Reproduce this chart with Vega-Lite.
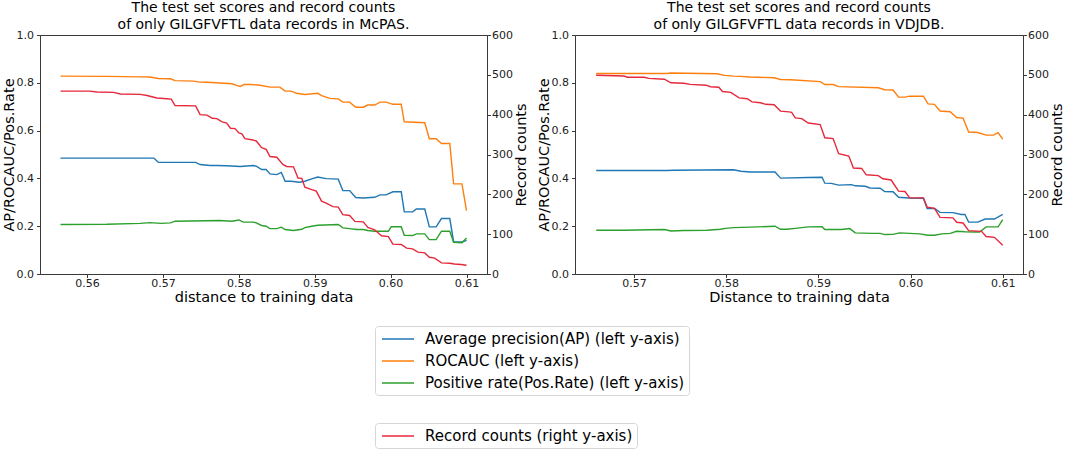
{
  "$schema": "https://vega.github.io/schema/vega-lite/v6.json",
  "padding": 0,
  "background": "white",
  "datasets": {
    "scores": [
      {"panel":"McPAS","metric":"AP","distance":0.5565,"value":0.485},
      {"panel":"McPAS","metric":"AP","distance":0.5688,"value":0.485},
      {"panel":"McPAS","metric":"AP","distance":0.5690,"value":0.479},
      {"panel":"McPAS","metric":"AP","distance":0.5694,"value":0.467},
      {"panel":"McPAS","metric":"AP","distance":0.5743,"value":0.467},
      {"panel":"McPAS","metric":"AP","distance":0.5749,"value":0.458},
      {"panel":"McPAS","metric":"AP","distance":0.5762,"value":0.454},
      {"panel":"McPAS","metric":"AP","distance":0.5771,"value":0.454},
      {"panel":"McPAS","metric":"AP","distance":0.5784,"value":0.453},
      {"panel":"McPAS","metric":"AP","distance":0.5802,"value":0.450},
      {"panel":"McPAS","metric":"AP","distance":0.5819,"value":0.454},
      {"panel":"McPAS","metric":"AP","distance":0.5823,"value":0.451},
      {"panel":"McPAS","metric":"AP","distance":0.5830,"value":0.437},
      {"panel":"McPAS","metric":"AP","distance":0.5836,"value":0.437},
      {"panel":"McPAS","metric":"AP","distance":0.5841,"value":0.419},
      {"panel":"McPAS","metric":"AP","distance":0.5850,"value":0.416},
      {"panel":"McPAS","metric":"AP","distance":0.5856,"value":0.425},
      {"panel":"McPAS","metric":"AP","distance":0.5861,"value":0.388},
      {"panel":"McPAS","metric":"AP","distance":0.5869,"value":0.388},
      {"panel":"McPAS","metric":"AP","distance":0.5880,"value":0.384},
      {"panel":"McPAS","metric":"AP","distance":0.5887,"value":0.388},
      {"panel":"McPAS","metric":"AP","distance":0.5896,"value":0.398},
      {"panel":"McPAS","metric":"AP","distance":0.5904,"value":0.406},
      {"panel":"McPAS","metric":"AP","distance":0.5915,"value":0.399},
      {"panel":"McPAS","metric":"AP","distance":0.5931,"value":0.397},
      {"panel":"McPAS","metric":"AP","distance":0.5937,"value":0.349},
      {"panel":"McPAS","metric":"AP","distance":0.5946,"value":0.349},
      {"panel":"McPAS","metric":"AP","distance":0.5954,"value":0.320},
      {"panel":"McPAS","metric":"AP","distance":0.5964,"value":0.318},
      {"panel":"McPAS","metric":"AP","distance":0.5979,"value":0.321},
      {"panel":"McPAS","metric":"AP","distance":0.5986,"value":0.331},
      {"panel":"McPAS","metric":"AP","distance":0.5994,"value":0.331},
      {"panel":"McPAS","metric":"AP","distance":0.6003,"value":0.344},
      {"panel":"McPAS","metric":"AP","distance":0.6014,"value":0.344},
      {"panel":"McPAS","metric":"AP","distance":0.6018,"value":0.260},
      {"panel":"McPAS","metric":"AP","distance":0.6029,"value":0.260},
      {"panel":"McPAS","metric":"AP","distance":0.6034,"value":0.272},
      {"panel":"McPAS","metric":"AP","distance":0.6045,"value":0.272},
      {"panel":"McPAS","metric":"AP","distance":0.6051,"value":0.197},
      {"panel":"McPAS","metric":"AP","distance":0.6060,"value":0.197},
      {"panel":"McPAS","metric":"AP","distance":0.6067,"value":0.232},
      {"panel":"McPAS","metric":"AP","distance":0.6078,"value":0.232},
      {"panel":"McPAS","metric":"AP","distance":0.6083,"value":0.134},
      {"panel":"McPAS","metric":"AP","distance":0.6094,"value":0.134},
      {"panel":"McPAS","metric":"AP","distance":0.6100,"value":0.141},

      {"panel":"McPAS","metric":"ROCAUC","distance":0.5565,"value":0.828},
      {"panel":"McPAS","metric":"ROCAUC","distance":0.5626,"value":0.827},
      {"panel":"McPAS","metric":"ROCAUC","distance":0.5670,"value":0.825},
      {"panel":"McPAS","metric":"ROCAUC","distance":0.5683,"value":0.824},
      {"panel":"McPAS","metric":"ROCAUC","distance":0.5694,"value":0.818},
      {"panel":"McPAS","metric":"ROCAUC","distance":0.5710,"value":0.817},
      {"panel":"McPAS","metric":"ROCAUC","distance":0.5716,"value":0.809},
      {"panel":"McPAS","metric":"ROCAUC","distance":0.5740,"value":0.807},
      {"panel":"McPAS","metric":"ROCAUC","distance":0.5749,"value":0.803},
      {"panel":"McPAS","metric":"ROCAUC","distance":0.5758,"value":0.802},
      {"panel":"McPAS","metric":"ROCAUC","distance":0.5775,"value":0.799},
      {"panel":"McPAS","metric":"ROCAUC","distance":0.5791,"value":0.796},
      {"panel":"McPAS","metric":"ROCAUC","distance":0.5797,"value":0.789},
      {"panel":"McPAS","metric":"ROCAUC","distance":0.5802,"value":0.785},
      {"panel":"McPAS","metric":"ROCAUC","distance":0.5807,"value":0.793},
      {"panel":"McPAS","metric":"ROCAUC","distance":0.5815,"value":0.793},
      {"panel":"McPAS","metric":"ROCAUC","distance":0.5828,"value":0.790},
      {"panel":"McPAS","metric":"ROCAUC","distance":0.5841,"value":0.782},
      {"panel":"McPAS","metric":"ROCAUC","distance":0.5854,"value":0.782},
      {"panel":"McPAS","metric":"ROCAUC","distance":0.5861,"value":0.765},
      {"panel":"McPAS","metric":"ROCAUC","distance":0.5869,"value":0.765},
      {"panel":"McPAS","metric":"ROCAUC","distance":0.5876,"value":0.756},
      {"panel":"McPAS","metric":"ROCAUC","distance":0.5887,"value":0.751},
      {"panel":"McPAS","metric":"ROCAUC","distance":0.5904,"value":0.756},
      {"panel":"McPAS","metric":"ROCAUC","distance":0.5909,"value":0.746},
      {"panel":"McPAS","metric":"ROCAUC","distance":0.5920,"value":0.735},
      {"panel":"McPAS","metric":"ROCAUC","distance":0.5931,"value":0.733},
      {"panel":"McPAS","metric":"ROCAUC","distance":0.5937,"value":0.719},
      {"panel":"McPAS","metric":"ROCAUC","distance":0.5946,"value":0.719},
      {"panel":"McPAS","metric":"ROCAUC","distance":0.5954,"value":0.698},
      {"panel":"McPAS","metric":"ROCAUC","distance":0.5964,"value":0.698},
      {"panel":"McPAS","metric":"ROCAUC","distance":0.5970,"value":0.707},
      {"panel":"McPAS","metric":"ROCAUC","distance":0.5979,"value":0.707},
      {"panel":"McPAS","metric":"ROCAUC","distance":0.5986,"value":0.719},
      {"panel":"McPAS","metric":"ROCAUC","distance":0.5994,"value":0.719},
      {"panel":"McPAS","metric":"ROCAUC","distance":0.6003,"value":0.710},
      {"panel":"McPAS","metric":"ROCAUC","distance":0.6014,"value":0.710},
      {"panel":"McPAS","metric":"ROCAUC","distance":0.6018,"value":0.637},
      {"panel":"McPAS","metric":"ROCAUC","distance":0.6045,"value":0.633},
      {"panel":"McPAS","metric":"ROCAUC","distance":0.6051,"value":0.566},
      {"panel":"McPAS","metric":"ROCAUC","distance":0.6060,"value":0.566},
      {"panel":"McPAS","metric":"ROCAUC","distance":0.6067,"value":0.546},
      {"panel":"McPAS","metric":"ROCAUC","distance":0.6078,"value":0.546},
      {"panel":"McPAS","metric":"ROCAUC","distance":0.6083,"value":0.377},
      {"panel":"McPAS","metric":"ROCAUC","distance":0.6094,"value":0.377},
      {"panel":"McPAS","metric":"ROCAUC","distance":0.6100,"value":0.265},

      {"panel":"McPAS","metric":"PosRate","distance":0.5565,"value":0.207},
      {"panel":"McPAS","metric":"PosRate","distance":0.5626,"value":0.208},
      {"panel":"McPAS","metric":"PosRate","distance":0.5670,"value":0.212},
      {"panel":"McPAS","metric":"PosRate","distance":0.5683,"value":0.215},
      {"panel":"McPAS","metric":"PosRate","distance":0.5697,"value":0.212},
      {"panel":"McPAS","metric":"PosRate","distance":0.5710,"value":0.214},
      {"panel":"McPAS","metric":"PosRate","distance":0.5716,"value":0.221},
      {"panel":"McPAS","metric":"PosRate","distance":0.5736,"value":0.222},
      {"panel":"McPAS","metric":"PosRate","distance":0.5775,"value":0.224},
      {"panel":"McPAS","metric":"PosRate","distance":0.5791,"value":0.221},
      {"panel":"McPAS","metric":"PosRate","distance":0.5800,"value":0.226},
      {"panel":"McPAS","metric":"PosRate","distance":0.5806,"value":0.217},
      {"panel":"McPAS","metric":"PosRate","distance":0.5819,"value":0.217},
      {"panel":"McPAS","metric":"PosRate","distance":0.5823,"value":0.214},
      {"panel":"McPAS","metric":"PosRate","distance":0.5830,"value":0.203},
      {"panel":"McPAS","metric":"PosRate","distance":0.5836,"value":0.200},
      {"panel":"McPAS","metric":"PosRate","distance":0.5841,"value":0.190},
      {"panel":"McPAS","metric":"PosRate","distance":0.5850,"value":0.190},
      {"panel":"McPAS","metric":"PosRate","distance":0.5856,"value":0.196},
      {"panel":"McPAS","metric":"PosRate","distance":0.5861,"value":0.186},
      {"panel":"McPAS","metric":"PosRate","distance":0.5872,"value":0.182},
      {"panel":"McPAS","metric":"PosRate","distance":0.5883,"value":0.187},
      {"panel":"McPAS","metric":"PosRate","distance":0.5887,"value":0.194},
      {"panel":"McPAS","metric":"PosRate","distance":0.5896,"value":0.200},
      {"panel":"McPAS","metric":"PosRate","distance":0.5904,"value":0.204},
      {"panel":"McPAS","metric":"PosRate","distance":0.5931,"value":0.207},
      {"panel":"McPAS","metric":"PosRate","distance":0.5937,"value":0.193},
      {"panel":"McPAS","metric":"PosRate","distance":0.5946,"value":0.190},
      {"panel":"McPAS","metric":"PosRate","distance":0.5955,"value":0.186},
      {"panel":"McPAS","metric":"PosRate","distance":0.5964,"value":0.186},
      {"panel":"McPAS","metric":"PosRate","distance":0.5970,"value":0.182},
      {"panel":"McPAS","metric":"PosRate","distance":0.5979,"value":0.179},
      {"panel":"McPAS","metric":"PosRate","distance":0.5997,"value":0.179},
      {"panel":"McPAS","metric":"PosRate","distance":0.6001,"value":0.198},
      {"panel":"McPAS","metric":"PosRate","distance":0.6014,"value":0.198},
      {"panel":"McPAS","metric":"PosRate","distance":0.6018,"value":0.162},
      {"panel":"McPAS","metric":"PosRate","distance":0.6029,"value":0.161},
      {"panel":"McPAS","metric":"PosRate","distance":0.6034,"value":0.168},
      {"panel":"McPAS","metric":"PosRate","distance":0.6045,"value":0.168},
      {"panel":"McPAS","metric":"PosRate","distance":0.6051,"value":0.144},
      {"panel":"McPAS","metric":"PosRate","distance":0.6060,"value":0.144},
      {"panel":"McPAS","metric":"PosRate","distance":0.6067,"value":0.179},
      {"panel":"McPAS","metric":"PosRate","distance":0.6078,"value":0.179},
      {"panel":"McPAS","metric":"PosRate","distance":0.6083,"value":0.133},
      {"panel":"McPAS","metric":"PosRate","distance":0.6094,"value":0.131},
      {"panel":"McPAS","metric":"PosRate","distance":0.6100,"value":0.151},

      {"panel":"VDJDB","metric":"AP","distance":0.5659,"value":0.433},
      {"panel":"VDJDB","metric":"AP","distance":0.5736,"value":0.433},
      {"panel":"VDJDB","metric":"AP","distance":0.5743,"value":0.434},
      {"panel":"VDJDB","metric":"AP","distance":0.5808,"value":0.436},
      {"panel":"VDJDB","metric":"AP","distance":0.5816,"value":0.430},
      {"panel":"VDJDB","metric":"AP","distance":0.5826,"value":0.427},
      {"panel":"VDJDB","metric":"AP","distance":0.5853,"value":0.427},
      {"panel":"VDJDB","metric":"AP","distance":0.5859,"value":0.401},
      {"panel":"VDJDB","metric":"AP","distance":0.5889,"value":0.404},
      {"panel":"VDJDB","metric":"AP","distance":0.5904,"value":0.405},
      {"panel":"VDJDB","metric":"AP","distance":0.5907,"value":0.380},
      {"panel":"VDJDB","metric":"AP","distance":0.5914,"value":0.379},
      {"panel":"VDJDB","metric":"AP","distance":0.5922,"value":0.372},
      {"panel":"VDJDB","metric":"AP","distance":0.5936,"value":0.374},
      {"panel":"VDJDB","metric":"AP","distance":0.5940,"value":0.369},
      {"panel":"VDJDB","metric":"AP","distance":0.5951,"value":0.367},
      {"panel":"VDJDB","metric":"AP","distance":0.5956,"value":0.360},
      {"panel":"VDJDB","metric":"AP","distance":0.5967,"value":0.359},
      {"panel":"VDJDB","metric":"AP","distance":0.5972,"value":0.345},
      {"panel":"VDJDB","metric":"AP","distance":0.5981,"value":0.344},
      {"panel":"VDJDB","metric":"AP","distance":0.5987,"value":0.321},
      {"panel":"VDJDB","metric":"AP","distance":0.5998,"value":0.318},
      {"panel":"VDJDB","metric":"AP","distance":0.6014,"value":0.317},
      {"panel":"VDJDB","metric":"AP","distance":0.6018,"value":0.274},
      {"panel":"VDJDB","metric":"AP","distance":0.6026,"value":0.274},
      {"panel":"VDJDB","metric":"AP","distance":0.6032,"value":0.258},
      {"panel":"VDJDB","metric":"AP","distance":0.6046,"value":0.257},
      {"panel":"VDJDB","metric":"AP","distance":0.6055,"value":0.249},
      {"panel":"VDJDB","metric":"AP","distance":0.6059,"value":0.249},
      {"panel":"VDJDB","metric":"AP","distance":0.6063,"value":0.217},
      {"panel":"VDJDB","metric":"AP","distance":0.6073,"value":0.217},
      {"panel":"VDJDB","metric":"AP","distance":0.6081,"value":0.230},
      {"panel":"VDJDB","metric":"AP","distance":0.6091,"value":0.230},
      {"panel":"VDJDB","metric":"AP","distance":0.6100,"value":0.249},

      {"panel":"VDJDB","metric":"ROCAUC","distance":0.5659,"value":0.839},
      {"panel":"VDJDB","metric":"ROCAUC","distance":0.5736,"value":0.839},
      {"panel":"VDJDB","metric":"ROCAUC","distance":0.5740,"value":0.841},
      {"panel":"VDJDB","metric":"ROCAUC","distance":0.5790,"value":0.838},
      {"panel":"VDJDB","metric":"ROCAUC","distance":0.5798,"value":0.831},
      {"panel":"VDJDB","metric":"ROCAUC","distance":0.5808,"value":0.828},
      {"panel":"VDJDB","metric":"ROCAUC","distance":0.5816,"value":0.827},
      {"panel":"VDJDB","metric":"ROCAUC","distance":0.5826,"value":0.824},
      {"panel":"VDJDB","metric":"ROCAUC","distance":0.5852,"value":0.821},
      {"panel":"VDJDB","metric":"ROCAUC","distance":0.5859,"value":0.814},
      {"panel":"VDJDB","metric":"ROCAUC","distance":0.5870,"value":0.813},
      {"panel":"VDJDB","metric":"ROCAUC","distance":0.5902,"value":0.805},
      {"panel":"VDJDB","metric":"ROCAUC","distance":0.5907,"value":0.793},
      {"panel":"VDJDB","metric":"ROCAUC","distance":0.5916,"value":0.793},
      {"panel":"VDJDB","metric":"ROCAUC","distance":0.5922,"value":0.784},
      {"panel":"VDJDB","metric":"ROCAUC","distance":0.5965,"value":0.779},
      {"panel":"VDJDB","metric":"ROCAUC","distance":0.5972,"value":0.771},
      {"panel":"VDJDB","metric":"ROCAUC","distance":0.5981,"value":0.770},
      {"panel":"VDJDB","metric":"ROCAUC","distance":0.5987,"value":0.740},
      {"panel":"VDJDB","metric":"ROCAUC","distance":0.5994,"value":0.740},
      {"panel":"VDJDB","metric":"ROCAUC","distance":0.5999,"value":0.744},
      {"panel":"VDJDB","metric":"ROCAUC","distance":0.6014,"value":0.744},
      {"panel":"VDJDB","metric":"ROCAUC","distance":0.6019,"value":0.712},
      {"panel":"VDJDB","metric":"ROCAUC","distance":0.6026,"value":0.710},
      {"panel":"VDJDB","metric":"ROCAUC","distance":0.6032,"value":0.682},
      {"panel":"VDJDB","metric":"ROCAUC","distance":0.6043,"value":0.679},
      {"panel":"VDJDB","metric":"ROCAUC","distance":0.6050,"value":0.655},
      {"panel":"VDJDB","metric":"ROCAUC","distance":0.6057,"value":0.652},
      {"panel":"VDJDB","metric":"ROCAUC","distance":0.6063,"value":0.594},
      {"panel":"VDJDB","metric":"ROCAUC","distance":0.6073,"value":0.592},
      {"panel":"VDJDB","metric":"ROCAUC","distance":0.6082,"value":0.581},
      {"panel":"VDJDB","metric":"ROCAUC","distance":0.6090,"value":0.581},
      {"panel":"VDJDB","metric":"ROCAUC","distance":0.6095,"value":0.591},
      {"panel":"VDJDB","metric":"ROCAUC","distance":0.6100,"value":0.564},

      {"panel":"VDJDB","metric":"PosRate","distance":0.5659,"value":0.183},
      {"panel":"VDJDB","metric":"PosRate","distance":0.5689,"value":0.183},
      {"panel":"VDJDB","metric":"PosRate","distance":0.5733,"value":0.186},
      {"panel":"VDJDB","metric":"PosRate","distance":0.5740,"value":0.180},
      {"panel":"VDJDB","metric":"PosRate","distance":0.5754,"value":0.182},
      {"panel":"VDJDB","metric":"PosRate","distance":0.5779,"value":0.183},
      {"panel":"VDJDB","metric":"PosRate","distance":0.5794,"value":0.187},
      {"panel":"VDJDB","metric":"PosRate","distance":0.5799,"value":0.191},
      {"panel":"VDJDB","metric":"PosRate","distance":0.5808,"value":0.194},
      {"panel":"VDJDB","metric":"PosRate","distance":0.5826,"value":0.196},
      {"panel":"VDJDB","metric":"PosRate","distance":0.5853,"value":0.200},
      {"panel":"VDJDB","metric":"PosRate","distance":0.5859,"value":0.187},
      {"panel":"VDJDB","metric":"PosRate","distance":0.5866,"value":0.187},
      {"panel":"VDJDB","metric":"PosRate","distance":0.5875,"value":0.191},
      {"panel":"VDJDB","metric":"PosRate","distance":0.5889,"value":0.197},
      {"panel":"VDJDB","metric":"PosRate","distance":0.5904,"value":0.198},
      {"panel":"VDJDB","metric":"PosRate","distance":0.5907,"value":0.186},
      {"panel":"VDJDB","metric":"PosRate","distance":0.5925,"value":0.186},
      {"panel":"VDJDB","metric":"PosRate","distance":0.5934,"value":0.190},
      {"panel":"VDJDB","metric":"PosRate","distance":0.5940,"value":0.172},
      {"panel":"VDJDB","metric":"PosRate","distance":0.5958,"value":0.170},
      {"panel":"VDJDB","metric":"PosRate","distance":0.5967,"value":0.170},
      {"panel":"VDJDB","metric":"PosRate","distance":0.5972,"value":0.165},
      {"panel":"VDJDB","metric":"PosRate","distance":0.5981,"value":0.166},
      {"panel":"VDJDB","metric":"PosRate","distance":0.5988,"value":0.172},
      {"panel":"VDJDB","metric":"PosRate","distance":0.6010,"value":0.168},
      {"panel":"VDJDB","metric":"PosRate","distance":0.6019,"value":0.162},
      {"panel":"VDJDB","metric":"PosRate","distance":0.6026,"value":0.162},
      {"panel":"VDJDB","metric":"PosRate","distance":0.6034,"value":0.168},
      {"panel":"VDJDB","metric":"PosRate","distance":0.6043,"value":0.170},
      {"panel":"VDJDB","metric":"PosRate","distance":0.6050,"value":0.179},
      {"panel":"VDJDB","metric":"PosRate","distance":0.6059,"value":0.177},
      {"panel":"VDJDB","metric":"PosRate","distance":0.6070,"value":0.176},
      {"panel":"VDJDB","metric":"PosRate","distance":0.6075,"value":0.176},
      {"panel":"VDJDB","metric":"PosRate","distance":0.6082,"value":0.197},
      {"panel":"VDJDB","metric":"PosRate","distance":0.6095,"value":0.197},
      {"panel":"VDJDB","metric":"PosRate","distance":0.6100,"value":0.228}
    ],
    "counts": [
      {"panel":"McPAS","distance":0.5565,"records":459},
      {"panel":"McPAS","distance":0.5604,"records":459},
      {"panel":"McPAS","distance":0.5613,"records":457},
      {"panel":"McPAS","distance":0.5635,"records":456},
      {"panel":"McPAS","distance":0.5644,"records":452},
      {"panel":"McPAS","distance":0.5670,"records":451},
      {"panel":"McPAS","distance":0.5679,"records":448},
      {"panel":"McPAS","distance":0.5692,"records":442},
      {"panel":"McPAS","distance":0.5705,"records":440},
      {"panel":"McPAS","distance":0.5711,"records":439},
      {"panel":"McPAS","distance":0.5716,"records":423},
      {"panel":"McPAS","distance":0.5743,"records":422},
      {"panel":"McPAS","distance":0.5749,"records":400},
      {"panel":"McPAS","distance":0.5758,"records":399},
      {"panel":"McPAS","distance":0.5765,"records":391},
      {"panel":"McPAS","distance":0.5771,"records":390},
      {"panel":"McPAS","distance":0.5778,"records":382},
      {"panel":"McPAS","distance":0.5784,"records":379},
      {"panel":"McPAS","distance":0.5789,"records":366},
      {"panel":"McPAS","distance":0.5795,"records":365},
      {"panel":"McPAS","distance":0.5800,"records":354},
      {"panel":"McPAS","distance":0.5804,"records":352},
      {"panel":"McPAS","distance":0.5808,"records":340},
      {"panel":"McPAS","distance":0.5817,"records":337},
      {"panel":"McPAS","distance":0.5823,"records":334},
      {"panel":"McPAS","distance":0.5830,"records":317},
      {"panel":"McPAS","distance":0.5836,"records":313},
      {"panel":"McPAS","distance":0.5841,"records":295},
      {"panel":"McPAS","distance":0.5850,"records":293},
      {"panel":"McPAS","distance":0.5858,"records":275},
      {"panel":"McPAS","distance":0.5863,"records":270},
      {"panel":"McPAS","distance":0.5872,"records":269},
      {"panel":"McPAS","distance":0.5878,"records":241},
      {"panel":"McPAS","distance":0.5883,"records":240},
      {"panel":"McPAS","distance":0.5887,"records":218},
      {"panel":"McPAS","distance":0.5896,"records":212},
      {"panel":"McPAS","distance":0.5902,"records":208},
      {"panel":"McPAS","distance":0.5909,"records":183},
      {"panel":"McPAS","distance":0.5915,"records":178},
      {"panel":"McPAS","distance":0.5924,"records":169},
      {"panel":"McPAS","distance":0.5931,"records":168},
      {"panel":"McPAS","distance":0.5937,"records":149},
      {"panel":"McPAS","distance":0.5946,"records":147},
      {"panel":"McPAS","distance":0.5953,"records":132},
      {"panel":"McPAS","distance":0.5964,"records":131},
      {"panel":"McPAS","distance":0.5970,"records":117},
      {"panel":"McPAS","distance":0.5979,"records":111},
      {"panel":"McPAS","distance":0.5988,"records":96},
      {"panel":"McPAS","distance":0.5997,"records":94},
      {"panel":"McPAS","distance":0.6003,"records":75},
      {"panel":"McPAS","distance":0.6014,"records":74},
      {"panel":"McPAS","distance":0.6021,"records":65},
      {"panel":"McPAS","distance":0.6029,"records":63},
      {"panel":"McPAS","distance":0.6036,"records":55},
      {"panel":"McPAS","distance":0.6045,"records":53},
      {"panel":"McPAS","distance":0.6051,"records":42},
      {"panel":"McPAS","distance":0.6058,"records":40},
      {"panel":"McPAS","distance":0.6067,"records":28},
      {"panel":"McPAS","distance":0.6078,"records":27},
      {"panel":"McPAS","distance":0.6084,"records":25},
      {"panel":"McPAS","distance":0.6093,"records":24},
      {"panel":"McPAS","distance":0.6100,"records":22},

      {"panel":"VDJDB","distance":0.5659,"records":499},
      {"panel":"VDJDB","distance":0.5689,"records":497},
      {"panel":"VDJDB","distance":0.5693,"records":494},
      {"panel":"VDJDB","distance":0.5711,"records":494},
      {"panel":"VDJDB","distance":0.5716,"records":491},
      {"panel":"VDJDB","distance":0.5733,"records":489},
      {"panel":"VDJDB","distance":0.5740,"records":480},
      {"panel":"VDJDB","distance":0.5754,"records":479},
      {"panel":"VDJDB","distance":0.5761,"records":476},
      {"panel":"VDJDB","distance":0.5778,"records":474},
      {"panel":"VDJDB","distance":0.5783,"records":470},
      {"panel":"VDJDB","distance":0.5792,"records":469},
      {"panel":"VDJDB","distance":0.5796,"records":458},
      {"panel":"VDJDB","distance":0.5805,"records":456},
      {"panel":"VDJDB","distance":0.5814,"records":442},
      {"panel":"VDJDB","distance":0.5823,"records":440},
      {"panel":"VDJDB","distance":0.5828,"records":432},
      {"panel":"VDJDB","distance":0.5837,"records":430},
      {"panel":"VDJDB","distance":0.5843,"records":426},
      {"panel":"VDJDB","distance":0.5852,"records":425},
      {"panel":"VDJDB","distance":0.5859,"records":409},
      {"panel":"VDJDB","distance":0.5868,"records":407},
      {"panel":"VDJDB","distance":0.5871,"records":406},
      {"panel":"VDJDB","distance":0.5875,"records":392},
      {"panel":"VDJDB","distance":0.5882,"records":390},
      {"panel":"VDJDB","distance":0.5889,"records":379},
      {"panel":"VDJDB","distance":0.5902,"records":375},
      {"panel":"VDJDB","distance":0.5907,"records":342},
      {"panel":"VDJDB","distance":0.5916,"records":340},
      {"panel":"VDJDB","distance":0.5922,"records":302},
      {"panel":"VDJDB","distance":0.5933,"records":296},
      {"panel":"VDJDB","distance":0.5938,"records":266},
      {"panel":"VDJDB","distance":0.5947,"records":265},
      {"panel":"VDJDB","distance":0.5952,"records":249},
      {"panel":"VDJDB","distance":0.5965,"records":247},
      {"panel":"VDJDB","distance":0.5970,"records":239},
      {"panel":"VDJDB","distance":0.5979,"records":236},
      {"panel":"VDJDB","distance":0.5987,"records":208},
      {"panel":"VDJDB","distance":0.5994,"records":207},
      {"panel":"VDJDB","distance":0.5999,"records":191},
      {"panel":"VDJDB","distance":0.6014,"records":191},
      {"panel":"VDJDB","distance":0.6018,"records":168},
      {"panel":"VDJDB","distance":0.6026,"records":165},
      {"panel":"VDJDB","distance":0.6032,"records":142},
      {"panel":"VDJDB","distance":0.6046,"records":141},
      {"panel":"VDJDB","distance":0.6050,"records":130},
      {"panel":"VDJDB","distance":0.6057,"records":128},
      {"panel":"VDJDB","distance":0.6063,"records":109},
      {"panel":"VDJDB","distance":0.6077,"records":107},
      {"panel":"VDJDB","distance":0.6082,"records":94},
      {"panel":"VDJDB","distance":0.6091,"records":92},
      {"panel":"VDJDB","distance":0.6100,"records":72}
    ]
  },
  "hconcat": [
    {
      "width": 447,
      "height": 239,
      "title": {"text": ["The test set scores and record counts", "of only GILGFVFTL data records in McPAS."]},
      "layer": [
        {
          "data": {"name": "scores"},
          "transform": [{"filter": "datum.panel === 'McPAS'"}],
          "mark": {"type": "line", "strokeWidth": 1.4},
          "encoding": {
            "x": {"field": "distance", "type": "quantitative", "scale": {"domain": [0.5538, 0.6127], "nice": false, "zero": false},
                  "axis": {"values": [0.56, 0.57, 0.58, 0.59, 0.60, 0.61], "format": ".2f", "title": "distance to training data", "labelPadding": 0, "titlePadding": 2}},
            "y": {"field": "value", "type": "quantitative", "scale": {"domain": [0, 1], "nice": false},
                  "axis": {"values": [0, 0.2, 0.4, 0.6, 0.8, 1.0], "format": ".1f", "title": "AP/ROCAUC/Pos.Rate", "labelPadding": 3, "titlePadding": 0}},
            "stroke": {"field": "metric", "type": "nominal",
                       "scale": {"domain": ["AP", "ROCAUC", "PosRate"], "range": ["#1f77b4", "#ff7f0e", "#2ca02c"]},
                       "legend": {"orient": "none", "legendX": 335, "legendY": 291, "title": null,
                                  "symbolType": "M-0.75,0H3.25", "symbolSize": 256, "symbolStrokeWidth": 1.5,
                                  "labelFontSize": 15, "labelOffset": 28, "labelLimit": 500, "rowPadding": 5, "padding": 4,
                                  "strokeColor": "#d6d6d6", "fillColor": "white", "cornerRadius": 3,
                                  "labelExpr": "datum.value == 'AP' ? 'Average precision(AP) (left y-axis)' : datum.value == 'ROCAUC' ? 'ROCAUC (left y-axis)' : 'Positive rate(Pos.Rate) (left y-axis)'"}}
          }
        },
        {
          "data": {"name": "counts"},
          "transform": [{"filter": "datum.panel === 'McPAS'"}],
          "mark": {"type": "line", "strokeWidth": 1.4},
          "encoding": {
            "x": {"field": "distance", "type": "quantitative"},
            "y": {"field": "records", "type": "quantitative", "scale": {"domain": [0, 600], "nice": false},
                  "axis": {"orient": "right", "values": [0, 100, 200, 300, 400, 500, 600], "title": "Record counts", "titleAngle": 270, "titleBaseline": "top", "labelPadding": 1, "titlePadding": 2}},
            "color": {"datum": "Record counts (right y-axis)", "type": "nominal", "scale": {"range": ["#e6283c"]},
                      "legend": {"orient": "none", "legendX": 335, "legendY": 388, "title": null,
                                 "symbolType": "M-0.75,0H3.25", "symbolSize": 256, "symbolStrokeWidth": 1.5,
                                 "labelFontSize": 15, "labelOffset": 28, "labelLimit": 500, "padding": 4,
                                 "strokeColor": "#d6d6d6", "fillColor": "white", "cornerRadius": 3}}
          }
        }
      ],
      "resolve": {"scale": {"y": "independent"}}
    },
    {
      "width": 448,
      "height": 239,
      "title": {"text": ["The test set scores and record counts", "of only GILGFVFTL data records in VDJDB."]},
      "layer": [
        {
          "data": {"name": "scores"},
          "transform": [{"filter": "datum.panel === 'VDJDB'"}],
          "mark": {"type": "line", "strokeWidth": 1.4},
          "encoding": {
            "x": {"field": "distance", "type": "quantitative", "scale": {"domain": [0.5636, 0.6122], "nice": false, "zero": false},
                  "axis": {"values": [0.57, 0.58, 0.59, 0.60, 0.61], "format": ".2f", "title": "Distance to training data", "labelPadding": 0, "titlePadding": 2}},
            "y": {"field": "value", "type": "quantitative", "scale": {"domain": [0, 1], "nice": false},
                  "axis": {"values": [0, 0.2, 0.4, 0.6, 0.8, 1.0], "format": ".1f", "title": "AP/ROCAUC/Pos.Rate", "labelPadding": 3, "titlePadding": 0}},
            "stroke": {"field": "metric", "type": "nominal",
                       "scale": {"domain": ["AP", "ROCAUC", "PosRate"], "range": ["#1f77b4", "#ff7f0e", "#2ca02c"]},
                       "legend": {"orient": "none", "legendX": 335, "legendY": 291, "title": null,
                                  "symbolType": "M-0.75,0H3.25", "symbolSize": 256, "symbolStrokeWidth": 1.5,
                                  "labelFontSize": 15, "labelOffset": 28, "labelLimit": 500, "rowPadding": 5, "padding": 4,
                                  "strokeColor": "#d6d6d6", "fillColor": "white", "cornerRadius": 3,
                                  "labelExpr": "datum.value == 'AP' ? 'Average precision(AP) (left y-axis)' : datum.value == 'ROCAUC' ? 'ROCAUC (left y-axis)' : 'Positive rate(Pos.Rate) (left y-axis)'"}}
          }
        },
        {
          "data": {"name": "counts"},
          "transform": [{"filter": "datum.panel === 'VDJDB'"}],
          "mark": {"type": "line", "strokeWidth": 1.4},
          "encoding": {
            "x": {"field": "distance", "type": "quantitative"},
            "y": {"field": "records", "type": "quantitative", "scale": {"domain": [0, 600], "nice": false},
                  "axis": {"orient": "right", "values": [0, 100, 200, 300, 400, 500, 600], "title": "Record counts", "titleAngle": 270, "titleBaseline": "top", "labelPadding": 1, "titlePadding": 2}},
            "color": {"datum": "Record counts (right y-axis)", "type": "nominal", "scale": {"range": ["#e6283c"]},
                      "legend": {"orient": "none", "legendX": 335, "legendY": 388, "title": null,
                                 "symbolType": "M-0.75,0H3.25", "symbolSize": 256, "symbolStrokeWidth": 1.5,
                                 "labelFontSize": 15, "labelOffset": 28, "labelLimit": 500, "padding": 4,
                                 "strokeColor": "#d6d6d6", "fillColor": "white", "cornerRadius": 3}}
          }
        }
      ],
      "resolve": {"scale": {"y": "independent"}}
    }
  ],
  "spacing": 6,
  "config": {
    "font": "DejaVu Sans",
    "view": {"stroke": "#3a3a3a", "strokeWidth": 1},
    "axis": {"grid": false, "domainColor": "#3a3a3a", "tickColor": "#3a3a3a", "tickSize": 3.5,
             "labelFont": "DejaVu Sans", "labelFontSize": 11, "labelColor": "#222222", "labelPadding": 1,
             "labelFlush": false, "labelOverlap": false,
             "titleFont": "DejaVu Sans", "titleFontSize": 14.5, "titleFontWeight": "normal", "titleColor": "#000000", "titlePadding": 1},
    "title": {"font": "DejaVu Sans", "fontSize": 14, "fontWeight": "normal", "color": "#000000", "lineHeight": 17, "offset": -2.5, "anchor": "middle", "frame": "group"},
    "legend": {"labelFont": "DejaVu Sans", "labelColor": "#000000"}
  }
}
